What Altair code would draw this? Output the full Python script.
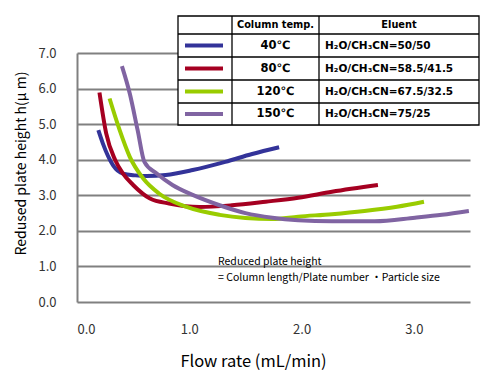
import altair as alt
import pandas as pd

# ---- data ----
blue_x = [0.19, 0.23, 0.32, 0.41, 0.52, 0.62, 0.79, 1.03, 1.32, 1.56, 1.80]
blue_y = [4.83, 4.46, 3.85, 3.61, 3.56, 3.54, 3.57, 3.71, 3.94, 4.16, 4.35]
red_x = [0.20, 0.26, 0.34, 0.41, 0.50, 0.65, 0.82, 1.09, 1.38, 1.68, 1.97, 2.27, 2.68]
red_y = [5.89, 4.74, 3.99, 3.61, 3.29, 2.91, 2.77, 2.67, 2.72, 2.82, 2.93, 3.10, 3.29]
green_x = [0.29, 0.38, 0.47, 0.59, 0.73, 0.97, 1.27, 1.50, 1.74, 1.97, 2.27, 2.56, 2.85, 3.09]
green_y = [5.72, 4.83, 4.08, 3.47, 3.05, 2.68, 2.45, 2.36, 2.33, 2.40, 2.47, 2.56, 2.68, 2.82]
purple_x = [0.40, 0.47, 0.54, 0.60, 0.71, 0.85, 1.03, 1.27, 1.50, 1.74, 1.97, 2.27, 2.65, 3.01, 3.25, 3.49]
purple_y = [6.63, 5.86, 4.83, 3.94, 3.61, 3.29, 3.01, 2.72, 2.50, 2.37, 2.30, 2.27, 2.27, 2.37, 2.45, 2.56]

temps = ["40℃", "80℃", "120℃", "150℃"]
eluents = ["H₂O/CH₃CN=50/50", "H₂O/CH₃CN=58.5/41.5", "H₂O/CH₃CN=67.5/32.5", "H₂O/CH₃CN=75/25"]
colors = ["#333399", "#A50021", "#99CC00", "#8064A2"]
y_ticks = [0, 1, 2, 3, 4, 5, 6, 7]
x_ticks = [0, 1, 2, 3]
note_lines = ["Reduced plate height", "= Column length/Plate number ・Particle size"]

FONT = "Noto Sans CJK JP"
TFONT = "DejaVu Sans"
W, H = 393, 249

rows = []
for t, xs, ys in zip(temps, [blue_x, red_x, green_x, purple_x], [blue_y, red_y, green_y, purple_y]):
    for i, (a, b) in enumerate(zip(xs, ys)):
        rows.append({"temp": t, "x": a, "y": b, "i": i})
df = pd.DataFrame(rows)

lines = alt.Chart(df).mark_line(strokeWidth=4, interpolate="monotone").encode(
    x=alt.X("x:Q", scale=alt.Scale(domain=[0, 3.5], nice=False),
            axis=alt.Axis(values=x_ticks, format=".1f", grid=False, domain=False, ticks=False,
                          labelPadding=21, labelFontSize=13, labelColor="#333333", labelFont=FONT,
                          title="Flow rate (mL/min)", titleFont=FONT, titleFontSize=16.5,
                          titleFontWeight="normal", titleX=176, titleY=59, titleBaseline="middle",
                          titleAlign="center")),
    y=alt.Y("y:Q", scale=alt.Scale(domain=[0, 7], nice=False),
            axis=alt.Axis(values=y_ticks, format=".1f", grid=True, gridColor="#808080", gridWidth=2,
                          domain=True, domainColor="#808080", domainWidth=2, ticks=False,
                          labelPadding=21, labelFontSize=13, labelColor="#333333", labelFont=FONT,
                          title="Redused plate height h(μ m)", titleFont=FONT, titleFontSize=14,
                          titleFontWeight="normal", titleX=-56, titleY=110, titleBaseline="middle",
                          titleAlign="center", titleAngle=270)),
    color=alt.Color("temp:N", scale=alt.Scale(domain=temps, range=colors), legend=None),
    order="i:Q",
)

# ---- legend table (pixel layout, relative to plot origin) ----
TL, TR, TT, TB = 101, 402, -37, 72
C1, C2 = 155, 242
RH = [-19, 4, 27, 50]
row_c = [(-19 + 4) / 2, (4 + 27) / 2, (27 + 50) / 2, (50 + 72) / 2]

bg = alt.Chart(pd.DataFrame({"a": [TL], "b": [TR], "c": [TT], "d": [TB]})).mark_rect(
    fill="white", stroke="black", strokeWidth=1.3).encode(
    x=alt.X("a:Q", scale=None), x2="b:Q", y=alt.Y("c:Q", scale=None), y2="d:Q")

hl = alt.Chart(pd.DataFrame({"yy": RH})).mark_rule(color="black", strokeWidth=1.3).encode(
    y=alt.Y("yy:Q", scale=None), x=alt.value(TL), x2=alt.value(TR))
vl = alt.Chart(pd.DataFrame({"xx": [C1, C2]})).mark_rule(color="black", strokeWidth=1.3).encode(
    x=alt.X("xx:Q", scale=None), y=alt.value(TT), y2=alt.value(TB))

leg = pd.DataFrame({"temp": temps, "eluent": eluents, "cy": row_c})
sw = alt.Chart(leg).mark_rule(strokeWidth=4).encode(
    y=alt.Y("cy:Q", scale=None), x=alt.value(108), x2=alt.value(146),
    color=alt.Color("temp:N", scale=alt.Scale(domain=temps, range=colors), legend=None))
ttxt = alt.Chart(leg).mark_text(font=TFONT, fontSize=11.5, fontWeight="bold", align="center",
                                baseline="middle", color="black").encode(
    y=alt.Y("cy:Q", scale=None), x=alt.value((C1 + C2) / 2), text="temp:N")
etxt = alt.Chart(leg).mark_text(font=TFONT, fontSize=10.5, fontWeight="bold", align="left",
                                baseline="middle", color="black").encode(
    y=alt.Y("cy:Q", scale=None), x=alt.value(C2 + 6), text="eluent:N")
hdr = alt.Chart(pd.DataFrame({"t": ["Column temp.", "Eluent"], "hx": [(C1 + C2) / 2, (C2 + TR) / 2]})).mark_text(
    font=TFONT, fontSize=9.8, fontWeight="bold", align="center", baseline="middle", color="black").encode(
    x=alt.X("hx:Q", scale=None), y=alt.value((TT + RH[0]) / 2), text="t:N")

note = alt.Chart(pd.DataFrame({"t": note_lines, "k": [0, 1]})).mark_text(
    font=FONT, fontSize=10.5, align="left", baseline="middle", color="black").encode(
    x=alt.value(141), y=alt.Y("k:Q", scale=alt.Scale(domain=[0, 1], range=[209, 225]), axis=None),
    text="t:N")

chart = alt.layer(lines, bg, hl, vl, sw, ttxt, etxt, hdr, note).resolve_scale(y="independent").properties(
    width=W, height=H,
    autosize=alt.AutoSizeParams(type="none"),
    padding={"left": 69, "top": 45, "right": 12, "bottom": 72},
).configure_view(stroke=None)

chart.save("out.html", embed_options={"renderer": "svg", "actions": False})
